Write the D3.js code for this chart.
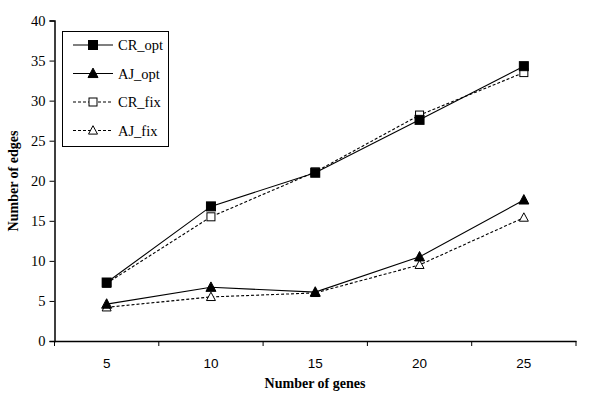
<!DOCTYPE html>
<html><head><meta charset="utf-8">
<script src="https://cdn.jsdelivr.net/npm/d3@7"></script>
<style>body{margin:0;background:#fff}svg{display:block}</style>
</head><body>
<svg id="c" width="600" height="404"></svg>
<script>
const categories = ["5","10","15","20","25"];
const yTicks = [0,5,10,15,20,25,30,35,40];
const crOpt = [7.3,16.8,21.0,27.6,34.3];
const ajOpt = [4.6,6.7,6.1,10.5,17.6];
const crFix = [7.2,15.5,21.1,28.2,33.5];
const ajFix = [4.2,5.5,6.0,9.5,15.4];
const seriesNames = ["CR_opt","AJ_opt","CR_fix","AJ_fix"];

const series = [
  {name:seriesNames[0], values:crOpt, dash:null, marker:"square", fill:"#000"},
  {name:seriesNames[1], values:ajOpt, dash:null, marker:"triangle", fill:"#000"},
  {name:seriesNames[2], values:crFix, dash:"3,2", marker:"square", fill:"#fff"},
  {name:seriesNames[3], values:ajFix, dash:"3,2", marker:"triangle", fill:"#fff"}
];

const svg = d3.select("#c");
const L=54.5, R=576, T=20.5, B=341;
const x = d3.scaleBand().domain(categories).range([L,R]);
const y = d3.scaleLinear().domain([0,40]).range([B,T]);

const serif = "'Liberation Serif','Times New Roman',serif";
const sans = "'Liberation Sans',Arial,sans-serif";

const ya = svg.append("g").attr("transform",`translate(${L},0)`)
  .call(d3.axisLeft(y).tickValues(yTicks).tickSize(5).tickPadding(4));
ya.select(".domain").attr("stroke","#000").attr("stroke-width",1.5);
ya.selectAll("text").attr("font-family",serif).attr("font-size",14.5).attr("fill","#000");

const xa = svg.append("g").attr("transform",`translate(0,${B})`)
  .call(d3.axisBottom(x).tickSize(0).tickPadding(17));
xa.select(".domain").attr("stroke","#000").attr("stroke-width",1.5);
xa.selectAll("text").attr("font-family",sans).attr("font-size",13.5).attr("fill","#000");
const bounds = categories.map(c=>x(c)).concat([R]);
xa.selectAll(".btick").data(bounds).enter().append("line")
  .attr("x1",d=>d).attr("x2",d=>d).attr("y1",0).attr("y2",5).attr("stroke","#000");

svg.append("text").attr("x",315).attr("y",388).attr("text-anchor","middle")
  .attr("font-family",serif).attr("font-weight","bold").attr("font-size",14).text("Number of genes");
svg.append("text").attr("transform","translate(18,181) rotate(-90)").attr("text-anchor","middle")
  .attr("font-family",serif).attr("font-weight","bold").attr("font-size",14).text("Number of edges");

const cx = c => x(c) + x.bandwidth()/2;
const line = d3.line().x((d,i)=>cx(categories[i])).y(d=>y(d));

function drawMarker(g, type, fill, px, py){
  if(type==="square"){
    const s = fill==="#000"?9:8;
    g.append("rect").attr("x",px-s/2).attr("y",py-s/2).attr("width",s).attr("height",s)
      .attr("fill",fill).attr("stroke","#000").attr("stroke-width",1);
  } else {
    const h = fill==="#000"?9:8, w = fill==="#000"?10:9;
    g.append("path").attr("d",`M${px},${py-h*0.6}L${px+w/2},${py+h*0.45}L${px-w/2},${py+h*0.45}Z`)
      .attr("fill",fill).attr("stroke","#000").attr("stroke-width",1);
  }
}

series.forEach(s=>{
  svg.append("path").datum(s.values).attr("d",line).attr("fill","none")
    .attr("stroke","#000").attr("stroke-width",1.1).attr("stroke-dasharray",s.dash);
});
// open markers first, filled markers on top
[series[2],series[3],series[0],series[1]].forEach(s=>{
  const g = svg.append("g");
  s.values.forEach((v,i)=>drawMarker(g,s.marker,s.fill,cx(categories[i]),y(v)));
});

const lg = svg.append("g");
lg.append("rect").attr("x",62.5).attr("y",31.5).attr("width",106).attr("height",115)
  .attr("fill","#fff").attr("stroke","#000").attr("stroke-width",1);
series.forEach((s,i)=>{
  const yy = 45 + i*28.5;
  lg.append("line").attr("x1",73).attr("x2",113).attr("y1",yy).attr("y2",yy)
    .attr("stroke","#000").attr("stroke-width",1.1).attr("stroke-dasharray",s.dash);
  drawMarker(lg,s.marker,s.fill,93,yy);
  lg.append("text").attr("x",118).attr("y",yy+5).attr("font-family",serif).attr("font-size",14.5)
    .text(s.name);
});
</script>
</body></html>
